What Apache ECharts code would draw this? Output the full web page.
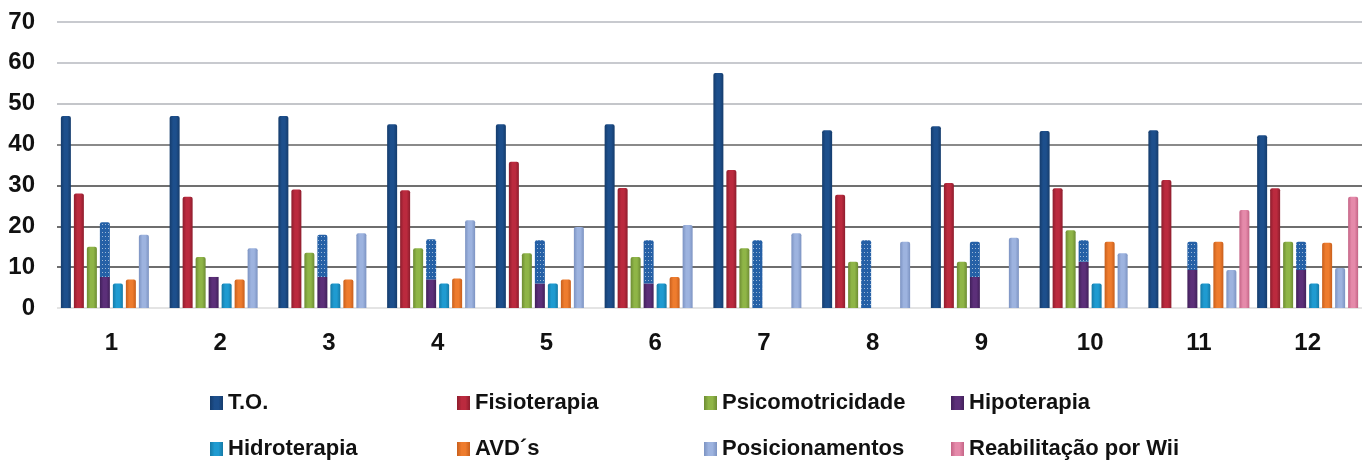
<!DOCTYPE html>
<html>
<head>
<meta charset="utf-8">
<script src="https://cdn.jsdelivr.net/npm/echarts@6/dist/echarts.min.js"></script>
<style>
html,body{margin:0;padding:0;background:#fff;}
#c{width:1362px;height:460px;}
</style>
</head>
<body>
<div id="c"></div>
<script>
var categories = ['1','2','3','4','5','6','7','8','9','10','11','12'];
var yTicks = [0,10,20,30,40,50,60,70];

var seriesNames = ['T.O.','Fisioterapia','Psicomotricidade','Hipoterapia','Hidroterapia','AVD\u00B4s','Posicionamentos','Reabilita\u00E7\u00E3o por Wii'];

var toValues      = [47, 47, 47, 45, 45, 45, 57.5, 43.5, 44.5, 43.3, 43.5, 42.3];
var fisioValues   = [28, 27.2, 29, 28.8, 35.8, 29.4, 33.8, 27.7, 30.6, 29.3, 31.3, 29.3];
var psicoValues   = [15, 12.5, 13.5, 14.6, 13.4, 12.5, 14.6, 11.3, 11.3, 19, 0, 16.2];
var hipoValues    = [7.6, 7.6, 7.6, 7, 6, 6, 0, 0, 7.6, 11.3, 9.3, 9.3];
var overlaySegment= [13.4, 0, 10.3, 9.8, 10.6, 10.6, 16.6, 16.6, 8.6, 5.3, 6.9, 6.9];
var hidroValues   = [6, 6, 6, 6, 6, 6, 0, 0, 0, 6, 6, 6];
var avdValues     = [7, 7, 7, 7.2, 7, 7.6, 0, 0, 0, 16.2, 16.2, 16];
var posicValues   = [17.9, 14.6, 18.3, 21.5, 19.8, 20.3, 18.3, 16.2, 17.2, 13.4, 9.3, 9.8];
var wiiValues     = [0, 0, 0, 0, 0, 0, 0, 0, 0, 0, 24, 27.2];

var colors = ['#1d4f8c','#bb2a3e','#8fb547','#5c2f79','#1f9bd1','#ee7c2e','#9db3df','#e58aaa'];
var darks  = ['#153c6c','#8e1d2d','#6d8c33','#41205a','#167aa6','#c85f1c','#7c93c2','#c46486'];

function grad(c, dark){
  return new echarts.graphic.LinearGradient(0,0,1,0,[
    {offset:0,color:dark},{offset:0.35,color:c},{offset:0.65,color:c},{offset:1,color:dark}
  ]);
}
function nz(arr){ return arr.map(function(v){ return v === 0 ? null : v; }); }

var valueSets = [toValues, fisioValues, psicoValues, hipoValues, hidroValues, avdValues, posicValues, wiiValues];

var series = [];
valueSets.forEach(function(vals, i){
  series.push({
    name: seriesNames[i],
    type: 'bar',
    stack: 's' + i,
    data: nz(vals),
    barWidth: 10,
    barGap: '30%',
    itemStyle: { color: grad(colors[i], darks[i]), borderRadius: (i === 3 ? 0 : [2,2,0,0]) }
  });
  if (i === 3) {
    series.push({
      name: 'overlay',
      type: 'bar',
      stack: 's3',
      data: nz(overlaySegment),
      barWidth: 10,
      itemStyle: {
        color: '#2560a6',
        borderRadius: [2,2,0,0],
        decal: { symbol: 'rect', symbolSize: 1, color: 'rgba(255,255,255,0.55)', dashArrayX: [1, 2], dashArrayY: [1, 3], rotation: 0 }
      }
    });
  }
});

var legendLeft = [205, 452, 699, 946];
var legendTop = [386, 432];
var legends = seriesNames.map(function(name, j){
  return {
    left: legendLeft[j % 4],
    top: legendTop[Math.floor(j / 4)],
    itemWidth: 13,
    itemHeight: 14,
    icon: 'rect',
    data: [name],
    textStyle: { fontSize: 22, fontWeight: 'bold', color: '#111', fontFamily: 'Liberation Sans, Arial, sans-serif', lineHeight: 24, padding: [0,0,0,0] }
  };
});

var chart = echarts.init(document.getElementById('c'), null, {renderer: 'canvas'});
chart.setOption({
  animation: false,
  color: colors,
  grid: { left: 57, top: 22, width: 1313, height: 286 },
  legend: legends,
  xAxis: {
    type: 'category',
    data: categories,
    axisLine: { show: false },
    axisTick: { show: false },
    axisLabel: { fontSize: 24, fontWeight: 'bold', color: '#111', margin: 23, fontFamily: 'Liberation Sans, Arial, sans-serif' }
  },
  yAxis: {
    type: 'value',
    min: yTicks[0],
    max: yTicks[yTicks.length - 1],
    interval: 10,
    axisLine: { show: false },
    axisTick: { show: false },
    axisLabel: { fontSize: 24, fontWeight: 'bold', color: '#111', margin: 22, fontFamily: 'Liberation Sans, Arial, sans-serif' },
    splitLine: { lineStyle: { color: ['#e4e4e4','#6e6e6e','#6e6e6e','#707070','#8a8a8a','#c4c6ca','#c8cacf','#c8cacf'], width: 2 } }
  },
  series: series
});
</script>
</body>
</html>
